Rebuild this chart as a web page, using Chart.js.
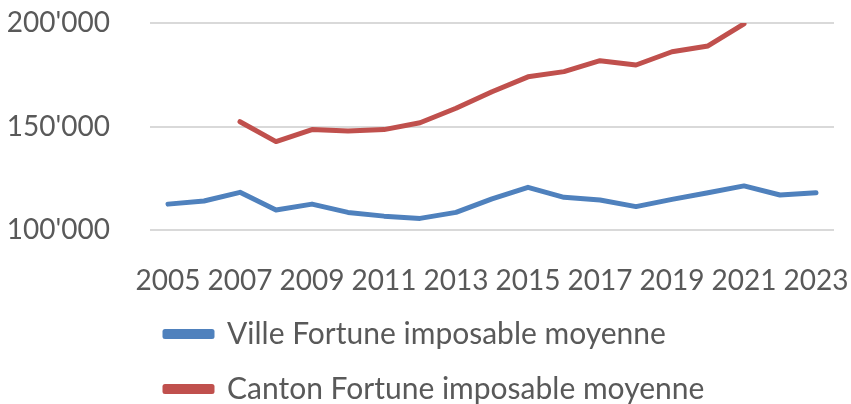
<!DOCTYPE html>
<html>
<head>
<meta charset="utf-8">
<script src="https://cdn.jsdelivr.net/npm/chart.js@4"></script>
<style>
  html, body { margin: 0; padding: 0; background: #fff; }
  #wrap { width: 851px; height: 404px; }
</style>
</head>
<body>
<div id="wrap"><canvas id="myChart" width="851" height="404"></canvas></div>
<script>
const years = ["2005", "2006", "2007", "2008", "2009", "2010", "2011", "2012", "2013", "2014",
  "2015", "2016", "2017", "2018", "2019", "2020", "2021", "2022", "2023"];
const ville = [112500, 114000, 118200, 109700, 112500, 108500, 106700, 105600, 108500, 115000,
  120600, 115800, 114500, 111300, 114800, 118000, 121300, 116900, 118000];
const canton = [null, null, 152300, 142700, 148500, 147800, 148500, 151800, 158800, 166800,
  174000, 176500, 181800, 179700, 186100, 188900, 199600, null, null];
const seriesNames = ["Ville Fortune imposable moyenne", "Canton Fortune imposable moyenne"];

const FONT = "Lato, 'Open Sans', sans-serif";
const textColor = "#595959";

// 200000 -> 200'000
function fmt(v) {
  return String(v).replace(/\B(?=(\d{3})+(?!\d))/g, "'");
}

// move the legend under the axis, left aligned like the original
const legendPos = {
  id: "legendPos",
  afterLayout(chart) {
    const lg = chart.legend;
    const w = lg.width, h = lg.height;
    lg.left = 140;
    lg.top = 294;
    lg.right = lg.left + w;
    lg.bottom = lg.top + h;
  },
};

const ctx = document.getElementById("myChart").getContext("2d");
const myChart = new Chart(ctx, {
  type: "line",
  data: {
    labels: years,
    datasets: [
      {
        label: seriesNames[0],
        data: ville,
        borderColor: "#4F81BD",
        backgroundColor: "#4F81BD",
        borderWidth: 5,
        pointRadius: 0,
        borderCapStyle: "round",
        borderJoinStyle: "round",
      },
      {
        label: seriesNames[1],
        data: canton,
        borderColor: "#C0504D",
        backgroundColor: "#C0504D",
        borderWidth: 5,
        pointRadius: 0,
        borderCapStyle: "round",
        borderJoinStyle: "round",
      },
    ],
  },
  options: {
    responsive: false,
    animation: false,
    layout: { padding: { top: 23, right: 17, bottom: 114, left: 0 } },
    plugins: {
      tooltip: { enabled: false },
      legend: {
        position: "chartArea",
        align: "start",
        labels: {
          font: { family: FONT, size: 30 },
          color: textColor,
          boxWidth: 47,
          boxHeight: 5,
          padding: 25,
        },
      },
    },
    scales: {
      x: {
        offset: true,
        grid: { display: false },
        border: { display: false },
        ticks: {
          autoSkip: false,
          maxRotation: 0,
          minRotation: 0,
          padding: 26,
          color: textColor,
          font: { family: FONT, size: 28 },
          callback: (v, i) => (i % 2 === 0 ? years[i] : ""),
        },
        afterFit: (s) => { s.height = 60; s.paddingLeft = 0; s.paddingRight = 0; },
      },
      y: {
        min: 100000,
        max: 200000,
        grid: { color: "#D9D9D9", lineWidth: 2, drawTicks: false },
        border: { display: false },
        ticks: {
          stepSize: 50000,
          padding: 40,
          color: textColor,
          font: { family: FONT, size: 28 },
          callback: (v) => fmt(v),
        },
        afterFit: (s) => { s.width = 150; s.paddingTop = 0; s.paddingBottom = 0; },
      },
    },
  },
  plugins: [legendPos],
});
</script>
</body>
</html>
